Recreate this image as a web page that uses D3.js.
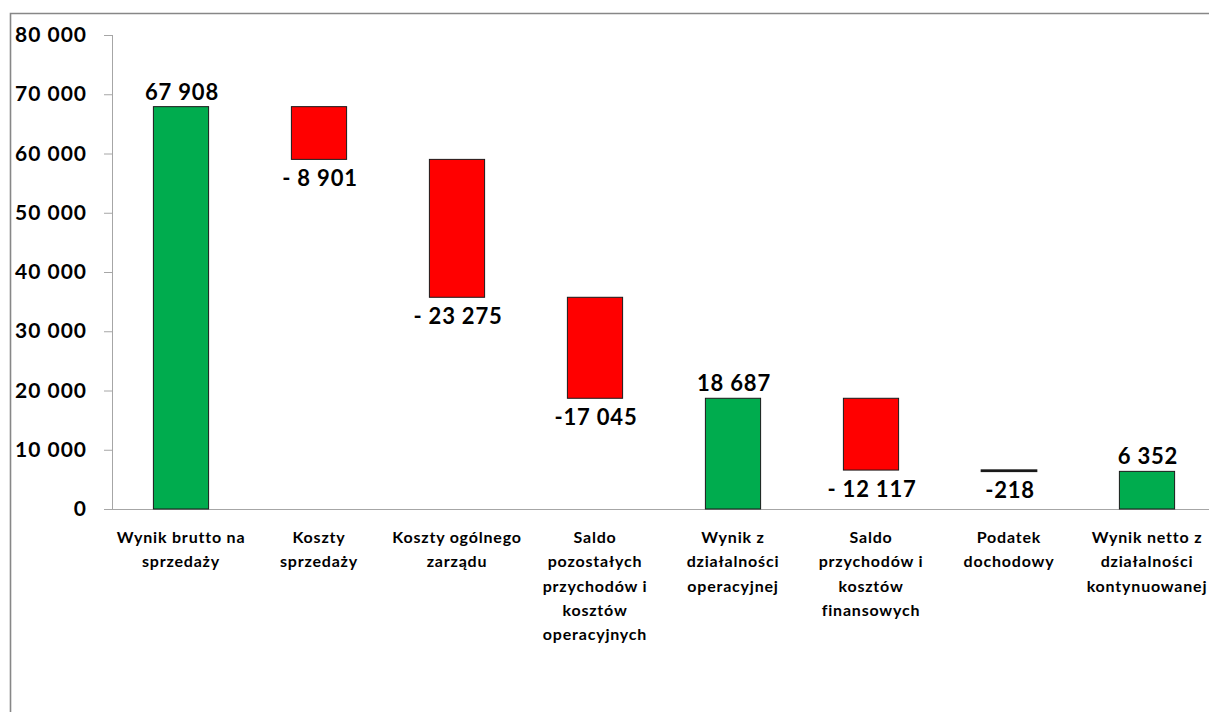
<!DOCTYPE html>
<html>
<head>
<meta charset="utf-8">
<script src="https://cdn.jsdelivr.net/npm/d3@7"></script>
<style>
  body { margin: 0; background: #fff; }
  svg { display: block; font-family: Lato, "Open Sans", sans-serif; font-weight: bold; }
</style>
</head>
<body>
<div id="plot"></div>
<script>
  // dane
  var categories = [
    ["Wynik brutto na", "sprzedaży"],
    ["Koszty", "sprzedaży"],
    ["Koszty ogólnego", "zarządu"],
    ["Saldo", "pozostałych", "przychodów i", "kosztów", "operacyjnych"],
    ["Wynik z", "działalności", "operacyjnej"],
    ["Saldo", "przychodów i", "kosztów", "finansowych"],
    ["Podatek", "dochodowy"],
    ["Wynik netto z", "działalności", "kontynuowanej"]
  ];
  var values = [67908, -8901, -23275, -17045, 18687, -12117, -218, 6352];
  var isTotal = [true, false, false, false, true, false, false, true];
  var valueLabels = ["67 908", "- 8 901", "- 23 275", "-17 045", "18 687", "- 12 117", "-218", "6 352"];
  var yTicks = [0, 10000, 20000, 30000, 40000, 50000, 60000, 70000, 80000];

  var W = 1209, H = 712;
  var margin = {top: 35, left: 112, bottom: 203};
  var plotH = H - margin.top - margin.bottom;

  var svg = d3.select("#plot").append("svg")
      .attr("width", W).attr("height", H);

  // ramka
  svg.append("path")
    .attr("d", "M10.5," + H + "V13.5H" + W)
    .attr("fill", "none").attr("stroke", "#878787").attr("stroke-width", 1.6);

  var x = d3.scaleBand().domain(d3.range(values.length))
      .range([0, 138 * values.length]).paddingInner(0.6).paddingOuter(0.3);
  var y = d3.scaleLinear().domain([0, 80000]).range([plotH, 0]);

  var g = svg.append("g").attr("transform", "translate(" + margin.left + "," + margin.top + ")");

  // slupki (waterfall)
  var run = 0;
  var bars = values.map(function(v, i) {
    var b;
    if (isTotal[i]) { b = {lo: 0, hi: v}; run = v; }
    else { b = {lo: run + v, hi: run}; run = run + v; }
    b.i = i; b.v = v; b.total = isTotal[i];
    return b;
  });

  var yAxis = d3.axisLeft(y).tickValues(yTicks).tickSize(8)
      .tickFormat(function(d) { return d3.format(",")(d).replace(/,/g, " "); });
  var ya = g.append("g").call(yAxis);
  ya.select(".domain").attr("stroke", "#a6a6a6").attr("d", "M0.5," + plotH + "V" + y(80000));
  ya.selectAll(".tick line").attr("stroke", "#a6a6a6").attr("x1", 0.5);
  ya.selectAll(".tick text").attr("x", -25).attr("fill", "#000")
    .style("font-size", "21px").style("letter-spacing", "1px")
    .style("font-family", "Lato, sans-serif").style("font-weight", "bold");

  // os x
  g.append("line").attr("x1", 0).attr("x2", W).attr("y1", y(0) + 0.5).attr("y2", y(0) + 0.5)
    .attr("stroke", "#a6a6a6");

  g.selectAll(".bar").data(bars).enter().append("rect")
    .attr("x", function(d) { return x(d.i); })
    .attr("width", x.bandwidth())
    .attr("y", function(d) { return y(d.hi); })
    .attr("height", function(d) { return y(d.lo) - y(d.hi); })
    .attr("fill", function(d) { return d.total ? "#00ac4e" : "#ff0000"; })
    .attr("stroke", "#1a1a1a").attr("stroke-width", function(d) { return y(d.lo) - y(d.hi) < 3 ? 1.5 : 1; });

  g.selectAll(".val").data(bars).enter().append("text")
    .attr("x", function(d) { return x(d.i) + x.bandwidth() / 2 + 1; })
    .attr("y", function(d) { return d.total ? y(d.hi) - 7 : y(d.lo) + 27; })
    .attr("text-anchor", "middle")
    .style("font-size", "22px").style("letter-spacing", "0.8px")
    .text(function(d) { return valueLabels[d.i]; });

  // etykiety kategorii
  var cl = g.selectAll(".cat").data(categories).enter().append("text")
    .attr("text-anchor", "middle")
    .attr("transform", function(d, i) { return "translate(" + (x(i) + x.bandwidth() / 2) + "," + (y(0) + 34) + ")"; })
    .style("font-size", "16px").style("letter-spacing", "0.8px");
  cl.selectAll("tspan").data(function(d) { return d; }).enter().append("tspan")
    .attr("x", 0).attr("y", function(d, j) { return j * 24.3; })
    .text(function(d) { return d; });
</script>
</body>
</html>
